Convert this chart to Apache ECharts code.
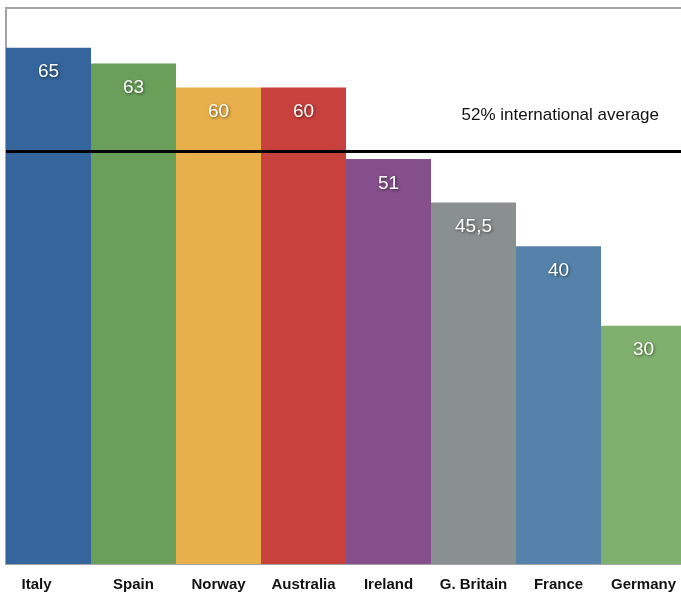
<!DOCTYPE html>
<html>
<head>
<meta charset="utf-8">
<script src="https://cdn.jsdelivr.net/npm/echarts@6/dist/echarts.min.js"></script>
<style>
  html, body { margin: 0; padding: 0; background: #fff; overflow: hidden; }
  #main { width: 681px; height: 592px; }
</style>
</head>
<body>
<div id="main"></div>
<script>
// data
var countries = ['Italy', 'Spain', 'Norway', 'Australia', 'Ireland', 'G. Britain', 'France', 'Germany'];
var values = [65, 63, 60, 60, 51, 45.5, 40, 30];
var barColors = ['#34659c', '#6a9f5a', '#e8b04a', '#c9413d', '#844f8a', '#8a908f', '#5482aa', '#80b06d'];
var averageValue = 52;
var averageText = '52% international average';

var chart = echarts.init(document.getElementById('main'));

var barData = [];
for (var i = 0; i < values.length; i++) {
	barData.push({
		value: values[i],
		itemStyle: { color: barColors[i] }
	});
}

// Italy label sits a bit left of its bar centre in the original
var categoryData = [];
for (var j = 0; j < countries.length; j++) {
	if (j == 0) {
		categoryData.push({ value: countries[j], textStyle: { padding: [0, 24, 0, 0] } });
	} else {
		categoryData.push(countries[j]);
	}
}

var option = {
	animation: false,
	textStyle: { fontFamily: 'Liberation Sans, Arial, sans-serif' },
	grid: {
		left: 6,
		width: 680,
		top: 8,
		bottom: 28,
		outerBoundsMode: 'none',
		containLabel: false,
		show: true,
		borderColor: '#a3a3a3',
		borderWidth: 2,
		backgroundColor: '#fff'
	},
	xAxis: {
		type: 'category',
		data: categoryData,
		axisLine: { show: false },
		axisTick: { show: false },
		axisLabel: {
			interval: 0,
			color: '#111',
			fontWeight: 'bold',
			fontSize: 15,
			margin: 13
		}
	},
	yAxis: {
		type: 'value',
		min: 0,
		max: 70,
		axisLine: { show: false },
		axisTick: { show: false },
		axisLabel: { show: false },
		splitLine: { show: false }
	},
	series: [{
		type: 'bar',
		data: barData,
		barCategoryGap: 0,
		label: {
			show: true,
			position: 'insideTop',
			distance: 15,
			color: '#fff',
			fontSize: 19,
			textShadowColor: 'rgba(0,0,0,0.55)',
			textShadowBlur: 3,
			textShadowOffsetX: 1,
			textShadowOffsetY: 1,
			formatter: function (p) {
				return String(p.value).replace('.', ',');
			}
		},
		markLine: {
			silent: true,
			symbol: 'none',
			data: [{ yAxis: averageValue }],
			lineStyle: { color: '#000', width: 3, type: 'solid' },
			label: {
				show: true,
				position: 'insideEndTop',
				distance: [27, 27],
				formatter: averageText,
				color: '#111',
				fontSize: 17
			}
		}
	}]
};

chart.setOption(option);
</script>
</body>
</html>
